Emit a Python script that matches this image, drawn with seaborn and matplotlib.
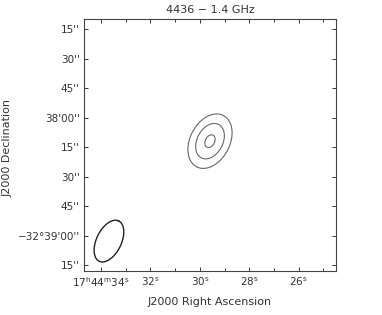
import numpy as np
import matplotlib
matplotlib.use("Agg")
import matplotlib.pyplot as plt
from matplotlib.ticker import FixedLocator
import seaborn as sns

# source model (RA seconds of 17h44m, Dec arcsec offset from -32d38'00", north up)
src_ra = 29.59
src_dec = -12.0
src_sigma = [8.6, 5.9]      # arcsec, major / minor
src_tilt = 28.0              # deg, from vertical toward the right
src_peak = 13.0
contour_levels = [3.0, 7.0, 12.0]

# restoring beam
beam_ra = 33.68
beam_dec = -62.8
beam_axes = [22.8, 12.7]    # arcsec, full major / minor
beam_tilt = 26.0

ra_ticks = [34, 32, 30, 28, 26]
ra_labels = [r"17$^{\rm h}$44$^{\rm m}$34$^{\rm s}$", r"32$^{\rm s}$", r"30$^{\rm s}$",
             r"28$^{\rm s}$", r"26$^{\rm s}$"]
dec_ticks = [45, 30, 15, 0, -15, -30, -45, -60, -75]
dec_labels = ["15''", "30''", "45''", "38'00''", "15''", "30''", "45''",
              "\u221232\u00b039'00''", "15''"]

title = "4436 \u2212 1.4 GHz"
xlabel = "J2000 Right Ascension"
ylabel = "J2000 Declination"

sns.set_theme(style="ticks", rc={"axes.linewidth": 0.8})
plt.rcParams["font.family"] = ["DejaVu Sans"]
ink = "#333333"

arcsec_per_s = 15 * np.cos(np.radians(32.636))

W, H = 382, 315
fig = plt.figure(figsize=(W / 100, H / 100), dpi=100)
ax = fig.add_axes([84 / W, 1 - 271 / H, 252 / W, 252 / H])

# gaussian image of the source
ra_grid = np.linspace(24.4, 34.8, 400)
dec_grid = np.linspace(-80, 52, 400)
RA, DEC = np.meshgrid(ra_grid, dec_grid)
dx = -(RA - src_ra) * arcsec_per_s
dy = DEC - src_dec
t = np.radians(src_tilt)
u = dx * np.sin(t) + dy * np.cos(t)
v = dx * np.cos(t) - dy * np.sin(t)
img = src_peak * np.exp(-0.5 * ((u / src_sigma[0]) ** 2 + (v / src_sigma[1]) ** 2))
ax.contour(RA, DEC, img, levels=contour_levels, colors="#666666", linewidths=0.8)

# beam ellipse, arcsec offsets converted to RA seconds
bt = np.radians(beam_tilt)
phi = np.linspace(0, 2 * np.pi, 200)
a, b = beam_axes[0] / 2, beam_axes[1] / 2
ex = a * np.cos(phi) * np.sin(bt) + b * np.sin(phi) * np.cos(bt)
ey = a * np.cos(phi) * np.cos(bt) - b * np.sin(phi) * np.sin(bt)
ax.plot(beam_ra - ex / arcsec_per_s, beam_dec + ey, color="#222222", lw=1.0)

ax.set_xlim(34.69, 24.49)
ax.set_ylim(-78.0, 50.1)

ax.xaxis.set_major_locator(FixedLocator(ra_ticks))
ax.xaxis.set_minor_locator(FixedLocator(np.arange(25, 35, 1)))
ax.set_xticklabels(ra_labels)
ax.yaxis.set_major_locator(FixedLocator(dec_ticks))
ax.set_yticklabels(dec_labels)

ax.tick_params(which="both", direction="in", top=True, right=True, colors=ink,
               labelcolor=ink, labelsize=7.5, width=0.7)
ax.tick_params(which="major", length=3.2, pad=3)
ax.tick_params(which="minor", length=2.0)
for s in ax.spines.values():
    s.set_color("#444444")

ax.set_title(title, fontsize=8, color=ink, pad=4)
ax.set_xlabel(xlabel, fontsize=8, color=ink, labelpad=6)
ax.set_ylabel(ylabel, fontsize=8, color=ink)
ax.yaxis.set_label_coords(-0.283, 0.49)

fig.savefig("out.png", dpi=100)
